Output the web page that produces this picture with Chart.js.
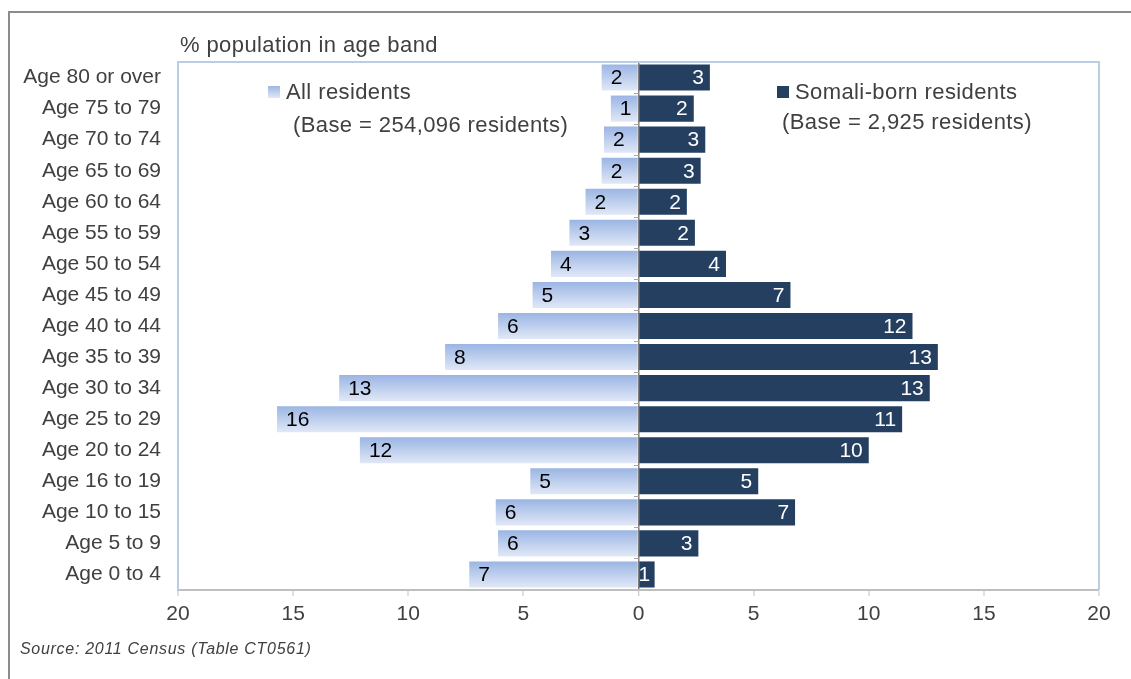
<!DOCTYPE html>
<html>
<head>
<meta charset="utf-8">
<script src="https://cdn.jsdelivr.net/npm/chart.js@4/dist/chart.umd.min.js"></script>
<style>
  html, body { margin: 0; padding: 0; background: #fff; }
  #wrap { position: relative; width: 1131px; height: 679px; overflow: hidden; font-family: "Liberation Sans", Arial, sans-serif; color: #404040; }
  #frame { position: absolute; left: 8px; top: 11px; width: 1300px; height: 800px; border-left: 2px solid #8c8c8c; border-top: 2px solid #8c8c8c; }
  #chart { position: absolute; left: 0; top: 0; }
  .txt { position: absolute; white-space: nowrap; font-size: 22px; line-height: 26px; letter-spacing: 0.4px; }
  .sq { display: inline-block; width: 12px; height: 12px; margin-right: 6px; vertical-align: 1px; }
  #source { position: absolute; left: 20px; top: 640px; font-size: 16px; letter-spacing: 0.7px; font-style: italic; }
</style>
</head>
<body>
<div id="wrap">
  <div id="frame"></div>
  <canvas id="chart" width="1131" height="679"></canvas>
  <div class="txt" style="left:180px; top:32px;">% population in age band</div>
  <div class="txt" style="left:268px; top:79px;"><span class="sq" style="background:linear-gradient(#9cb6e4,#e0e8f6);"></span>All residents</div>
  <div class="txt" style="left:293px; top:112px;">(Base = 254,096 residents)</div>
  <div class="txt" style="left:777px; top:79px;"><span class="sq" style="background:#243f60;"></span>Somali-born residents</div>
  <div class="txt" style="left:782px; top:109px;">(Base = 2,925 residents)</div>
  <div id="source">Source: 2011 Census (Table CT0561)</div>
</div>
<script>
// age bands, top to bottom
const ageBands = [
  'Age 80 or over', 'Age 75 to 79', 'Age 70 to 74', 'Age 65 to 69', 'Age 60 to 64',
  'Age 55 to 59', 'Age 50 to 54', 'Age 45 to 49', 'Age 40 to 44', 'Age 35 to 39',
  'Age 30 to 34', 'Age 25 to 29', 'Age 20 to 24', 'Age 16 to 19', 'Age 10 to 15',
  'Age 5 to 9', 'Age 0 to 4'
];

// % of population in each band
const allResidents = [1.6, 1.2, 1.5, 1.6, 2.3, 3.0, 3.8, 4.6, 6.1, 8.4, 13.0, 15.7, 12.1, 4.7, 6.2, 6.1, 7.35];
const somaliResidents = [3.1, 2.4, 2.9, 2.7, 2.1, 2.45, 3.8, 6.6, 11.9, 13.0, 12.65, 11.45, 10.0, 5.2, 6.8, 2.6, 0.7];

const xTicks = [-20, -15, -10, -5, 0, 5, 10, 15, 20];

const textColour = '#404040';
const fontFamily = '"Liberation Sans", Arial, sans-serif';

// vertical gradient for each "all residents" bar
function leftBarColour(context) {
    const chart = context.chart;
    if (!chart.chartArea) return '#b8cbec';
    const yScale = chart.scales.y;
    const yMid = yScale.getPixelForValue(context.dataIndex);
    const half = 14;
    const g = chart.ctx.createLinearGradient(0, yMid - half, 0, yMid + half);
    g.addColorStop(0, '#98b3e3');
    g.addColorStop(1, '#e3eaf7');
    return g;
}

// write the rounded values on the bars
const barLabels = {
    id: 'barLabels',
    afterDatasetsDraw(chart) {
        const ctx = chart.ctx;
        ctx.save();
        ctx.font = '21px ' + fontFamily;
        ctx.textBaseline = 'middle';
        chart.data.datasets.forEach((ds, i) => {
            const meta = chart.getDatasetMeta(i);
            meta.data.forEach((bar, j) => {
                const v = Math.round(Math.abs(ds.data[j]));
                if (i === 0) {
                    ctx.fillStyle = '#000';
                    ctx.textAlign = 'left';
                    ctx.fillText(v, bar.x + 9, bar.y + 1);
                } else {
                    ctx.fillStyle = '#fff';
                    ctx.textAlign = 'right';
                    ctx.fillText(v, Math.max(bar.x - 6, bar.base + 11), bar.y + 1);
                }
            });
        });
        ctx.restore();
    }
};

// light blue frame round the plot area
const plotFrame = {
    id: 'plotFrame',
    beforeDatasetsDraw(chart) {
        const a = chart.chartArea;
        const ctx = chart.ctx;
        ctx.save();
        ctx.strokeStyle = '#b9cde5';
        ctx.lineWidth = 2;
        ctx.beginPath();
        ctx.moveTo(a.left, a.bottom);
        ctx.lineTo(a.left, a.top);
        ctx.lineTo(a.right, a.top);
        ctx.lineTo(a.right, a.bottom);
        ctx.stroke();
        ctx.restore();
    }
};

const ctx = document.getElementById('chart').getContext('2d');
new Chart(ctx, {
    type: 'bar',
    data: {
        labels: ageBands,
        datasets: [
            {
                label: 'All residents',
                data: allResidents.map(v => -v),
                backgroundColor: leftBarColour,
                borderWidth: 0
            },
            {
                label: 'Somali-born residents',
                data: somaliResidents,
                backgroundColor: '#243f60',
                borderWidth: 0
            }
        ]
    },
    options: {
        indexAxis: 'y',
        responsive: false,
        animation: false,
        events: [],
        layout: { padding: { left: 0, right: 32, top: 62, bottom: 0 } },
        datasets: { bar: { categoryPercentage: 1, barPercentage: 0.84 } },
        scales: {
            x: {
                stacked: true,
                min: -20,
                max: 20,
                z: 1,
                afterBuildTicks: scale => { scale.ticks = xTicks.map(v => ({ value: v })); },
                afterFit: scale => { scale.height = 89; },
                border: { display: true, color: '#bfbfbf', width: 2 },
                grid: {
                    drawOnChartArea: true,
                    color: c => (c.tick && c.tick.value === 0 ? '#7f7f7f' : 'rgba(0,0,0,0)'),
                    lineWidth: c => (c.tick && c.tick.value === 0 ? 1.5 : 0),
                    tickColor: '#bfbfbf',
                    tickLength: 6,
                    tickWidth: 1
                },
                ticks: {
                    color: textColour,
                    font: { family: fontFamily, size: 21 },
                    padding: 6,
                    callback: v => Math.abs(v)
                }
            },
            y: {
                stacked: true,
                afterFit: scale => { scale.width = 178; },
                border: { display: false },
                grid: { display: false, drawTicks: false },
                ticks: {
                    color: textColour,
                    font: { family: fontFamily, size: 21 },
                    padding: 17
                }
            },
            yZero: {
                type: 'category',
                position: { x: 0 },
                border: { display: false },
                grid: { display: true, drawOnChartArea: false, tickLength: 5, tickColor: '#a6a6a6' },
                ticks: { display: false }
            }
        },
        plugins: {
            legend: { display: false },
            tooltip: { enabled: false }
        }
    },
    plugins: [plotFrame, barLabels]
});
</script>
</body>
</html>
